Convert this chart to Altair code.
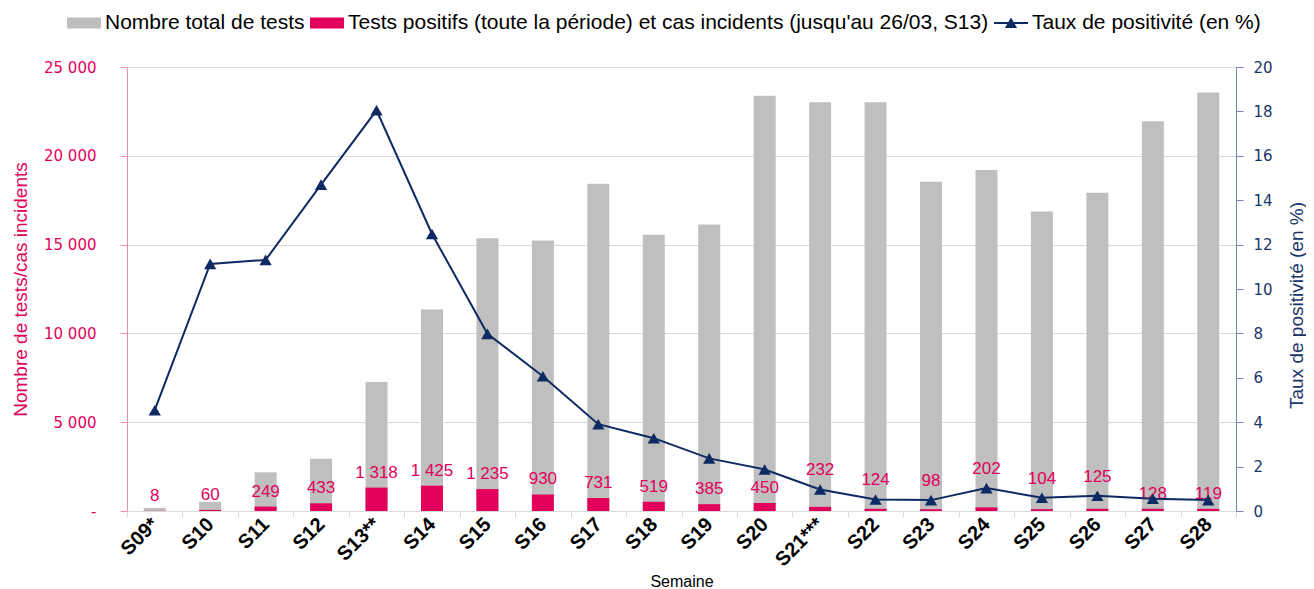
import altair as alt
import pandas as pd

semaines = ["S09*", "S10", "S11", "S12", "S13**", "S14", "S15", "S16", "S17", "S18",
            "S19", "S20", "S21***", "S22", "S23", "S24", "S25", "S26", "S27", "S28"]
total_tests = [175, 520, 2180, 2940, 7270, 11350, 15360, 15230, 18430, 15550,
               16130, 23380, 23020, 23020, 18540, 19200, 16860, 17920, 21950, 23560]
positifs = [8, 60, 249, 433, 1318, 1425, 1235, 930, 731, 519,
            385, 450, 232, 124, 98, 202, 104, 125, 128, 119]
taux = [4.54, 11.13, 11.31, 14.7, 18.05, 12.48, 7.98, 6.07, 3.91, 3.28,
        2.37, 1.87, 0.97, 0.52, 0.49, 1.03, 0.6, 0.69, 0.55, 0.49]
# weeks whose positive-count label sits above the positivity curve
etiquettes_sur_courbe = ["S21***", "S22", "S23", "S24", "S25", "S26"]

series = ["Nombre total de tests",
          "Tests positifs (toute la période) et cas incidents (jusqu'au 26/03, S13)",
          "Taux de positivité (en %)"]

GREY = "#BFBFBF"
PINK = "#E2005A"
NAVY = "#0E2A62"
NAVY_TXT = "#1A3668"

df = pd.DataFrame({"semaine": semaines, "total": total_tests, "pos": positifs, "taux": taux})
df["sur_courbe"] = df["semaine"].isin(etiquettes_sur_courbe)
leg_df = pd.DataFrame({"serie": series})

x_axis = alt.Axis(title="Semaine", labelAngle=315, labelAlign="right",
                  labelBaseline="middle", labelFont="Liberation Sans",
                  labelFontWeight="bold", labelFontSize=20, labelColor="black",
                  labelPadding=4, labelOverlap=False, labelBound=False,
                  domainColor="#D9D9D9", tickColor="#D9D9D9", tickSize=6,
                  tickBand="extent", titleFont="Liberation Sans",
                  titleFontSize=16, titleFontWeight="normal", titleColor="black",
                  titleY=70, titleBaseline="middle")
x_scale = alt.Scale(paddingInner=0, paddingOuter=0)


def xenc():
    return alt.X("semaine:N", sort=semaines, scale=x_scale, axis=x_axis)


left_scale = alt.Scale(domain=[0, 25000], nice=False)
right_scale = alt.Scale(domain=[0, 20], nice=False)

left_axis = alt.Axis(values=[0, 5000, 10000, 15000, 20000, 25000], grid=True, gridColor="#D9D9D9",
                     domainColor="#F08CAF", tickColor="#F08CAF", tickSize=7, labelPadding=24,
                     labelFont="DejaVu Sans", labelFontSize=15, labelColor=PINK,
                     labelExpr="datum.value == 0 ? '-\u00a0\u00a0' : replace(format(datum.value, ','), /,/g, '\u00a0')",
                     title="Nombre de tests/cas incidents", titleColor=PINK,
                     titleFont="Liberation Sans", titleFontSize=19, titleFontWeight="normal",
                     titleX=-107, titleY=222, titleAngle=270, titleAlign="center",
                     titleBaseline="middle")

right_axis = alt.Axis(orient="right", values=list(range(0, 21, 2)), grid=False,
                      domainColor="#7286AE", tickColor="#7286AE", tickSize=7, labelPadding=10,
                      labelFont="DejaVu Sans", labelFontSize=15, labelColor=NAVY_TXT,
                      title="Taux de positivité (en %)", titleColor=NAVY_TXT,
                      titleFont="Liberation Sans", titleFontSize=19, titleFontWeight="normal",
                      titleX=60, titleY=238, titleAngle=270, titleAlign="center",
                      titleBaseline="middle")


def yleft(field):
    return alt.Y(field, scale=left_scale, axis=left_axis, title="Nombre de tests/cas incidents")


def yright(field):
    return alt.Y(field, scale=right_scale, axis=right_axis, title="Taux de positivité (en %)")


LABEL_EXPR = "replace(format(datum.pos, ','), /,/g, '\u00a0')"

base = alt.Chart(df)

grey_bars = base.mark_bar(color=GREY, width=22).encode(x=xenc(), y=yleft("total:Q"))
pink_bars = base.mark_bar(color=PINK, width=22).encode(x=xenc(), y=yleft("pos:Q"))
labels = base.transform_filter("!datum.sur_courbe").transform_calculate(
    label=LABEL_EXPR
).mark_text(color=PINK, font="Liberation Sans", fontSize=17, dy=-10,
            baseline="alphabetic", align="center").encode(
    x=xenc(), y=yleft("pos:Q"), text="label:N",
)
left = alt.layer(grey_bars, pink_bars, labels)

line = base.mark_line(color=NAVY, strokeWidth=2).encode(x=xenc(), y=yright("taux:Q"))
pts = base.mark_point(shape="triangle-up", filled=True, color=NAVY, size=150, opacity=1).encode(
    x=xenc(), y=yright("taux:Q"),
)
labels_hi = base.transform_filter("datum.sur_courbe").transform_calculate(
    label=LABEL_EXPR
).mark_text(color=PINK, font="Liberation Sans", fontSize=17, dy=-14,
            baseline="alphabetic", align="center").encode(
    x=xenc(), y=yright("taux:Q"), text="label:N",
)
right = alt.layer(line, pts, labels_hi)

legend_layer = alt.Chart(leg_df).transform_filter("false").mark_point(filled=True, opacity=1).encode(
    color=alt.Color("serie:N",
                    scale=alt.Scale(domain=series, range=[GREY, PINK, NAVY]),
                    legend=alt.Legend(orient="none", legendX=-60, legendY=-61,
                                      direction="horizontal", title=None,
                                      labelFont="Liberation Sans", labelFontSize=21,
                                      labelColor="black", labelLimit=0, labelOffset=4,
                                      columnPadding=5, symbolSize=1156,
                                      symbolStrokeWidth=0, symbolOpacity=1)),
    shape=alt.Shape("serie:N",
                    scale=alt.Scale(domain=series,
                                    range=["M-1,-0.32H1V0.32H-1Z",
                                           "M-1,-0.32H1V0.32H-1Z",
                                           "M-1,-0.06H1V0.06H-1ZM0,-0.32L0.36,0.3H-0.36Z"])),
)

chart = alt.layer(left, right, legend_layer).resolve_scale(
    y="independent"
).properties(
    width=1109, height=444,
    autosize=alt.AutoSizeParams(type="none"),
    padding={"left": 119, "top": 59, "right": 70, "bottom": 78},
).configure_view(stroke=None)

chart.save("out.html", embed_options={"renderer": "svg", "actions": False})
